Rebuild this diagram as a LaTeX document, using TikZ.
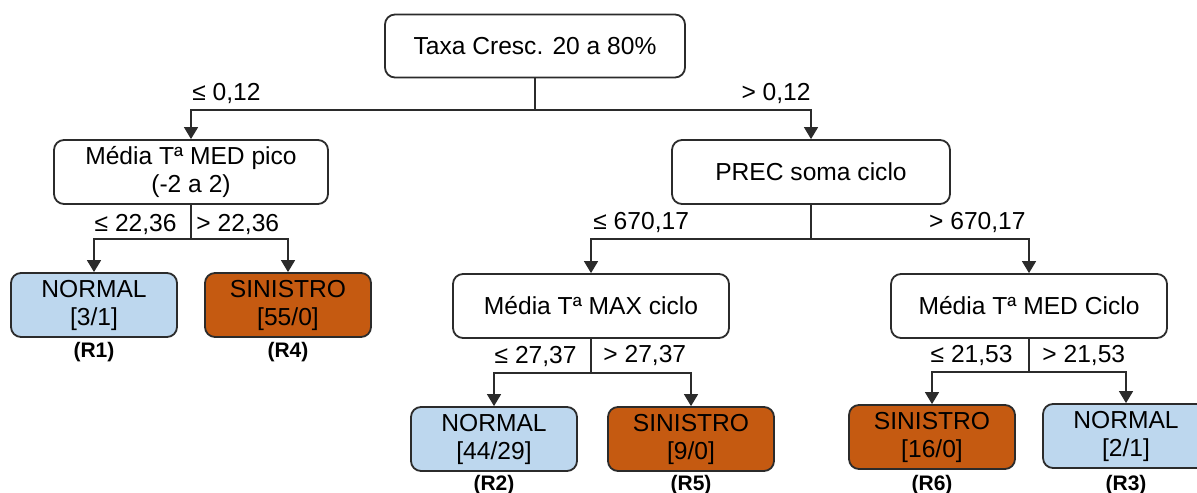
\documentclass[tikz,border=0pt]{standalone}
\usepackage{fontspec}
\setmainfont{Liberation Sans}
\usetikzlibrary{arrows.meta,calc}

\definecolor{normalfill}{HTML}{BDD7EE}
\definecolor{sinistrofill}{HTML}{C55A11}
\definecolor{edgegray}{HTML}{2B2B2B}

\tikzset{
  box/.style={draw=edgegray, line width=0.9pt, rounded corners=5pt, fill=white,
    align=center, inner sep=2pt, minimum height=32pt,
    font=\fontsize{12.3}{14}\selectfont},
  splitbox/.style={box, minimum width=138pt},
  leafbox/.style={box, minimum width=83pt},
  normalleaf/.style={leafbox, fill=normalfill},
  sinistroleaf/.style={leafbox, fill=sinistrofill},
  rlab/.style={inner sep=0pt, font=\fontsize{10.5}{12}\bfseries\selectfont},
  cond/.style={inner sep=0pt, font=\fontsize{12.3}{14}\selectfont},
  conn/.style={draw=edgegray, line width=0.75pt},
  arr/.style={conn, -{Triangle[width=7pt,length=6pt]}},
}

\begin{document}
\begin{tikzpicture}[x=0.5pt, y=-0.5pt]
  \useasboundingbox (0,0) rectangle (1197,492);

  % split nodes
  \node[box, minimum width=150pt, minimum height=31.5pt] (root) at (535,46) {Taxa Cresc. 20 a 80\%};
  \node[splitbox, minimum width=137pt] (pico) at (191,172) {Média Tª MED pico\\(-2 a 2)};
  \node[splitbox, minimum width=139pt] (prec) at (811,172) {PREC soma ciclo};
  \node[splitbox] (tmax) at (591,306) {Média Tª MAX ciclo};
  \node[splitbox] (tmed) at (1029,306) {Média Tª MED Ciclo};

  % leaves
  \node[normalleaf]   (l1) at (94,305)   {NORMAL\\{[3/1]}};
  \node[sinistroleaf] (l4) at (288,305)  {SINISTRO\\{[55/0]}};
  \node[normalleaf]   (l2) at (494,439)  {NORMAL\\{[44/29]}};
  \node[sinistroleaf] (l5) at (691,439)  {SINISTRO\\{[9/0]}};
  \node[sinistroleaf] (l6) at (932,437)  {SINISTRO\\{[16/0]}};
  \node[normalleaf]   (l3) at (1126,436) {NORMAL\\{[2/1]}};

  % rule labels
  \node[rlab] (r1) at ($(l1.south)+(0,14)$) {(R1)};
  \node[rlab] (r4) at ($(l4.south)+(0,14)$) {(R4)};
  \node[rlab] (r2) at ($(l2.south)+(0,13)$) {(R2)};
  \node[rlab] (r5) at ($(l5.south)+(0,13)$) {(R5)};
  \node[rlab] (r6) at ($(l6.south)+(0,15)$) {(R6)};
  \node[rlab] (r3) at ($(l3.south)+(0,16)$) {(R3)};

  % branch junctions
  \coordinate (j1) at (535,110);
  \coordinate (j2) at (191,239);
  \coordinate (j3) at (811,239);
  \coordinate (j4) at (591,373);
  \coordinate (j5) at (1029,372);

  % connectors
  \draw[conn] (root.south) -- (j1);
  \draw[arr] (j1) -| (pico.north);
  \draw[arr] (j1) -| (prec.north);

  \draw[conn] (pico.south) -- (j2);
  \draw[arr] (j2) -| (l1.north);
  \draw[arr] (j2) -| (l4.north);

  \draw[conn] (prec.south) -- (j3);
  \draw[arr] (j3) -| (tmax.north);
  \draw[arr] (j3) -| (tmed.north);

  \draw[conn] (tmax.south) -- (j4);
  \draw[arr] (j4) -| (l2.north);
  \draw[arr] (j4) -| (l5.north);

  \draw[conn] (tmed.south) -- (j5);
  \draw[arr] (j5) -| (l6.north);
  \draw[arr] (j5) -| (l3.north);

  % split conditions
  \node[cond, anchor=base west] (c1a) at (192,100)  {≤ 0,12};
  \node[cond, anchor=base east] (c1b) at (811,100)  {> 0,12};
  \node[cond, anchor=base east] (c2a) at (177,231)  {≤ 22,36};
  \node[cond, anchor=base west] (c2b) at (196,231)  {> 22,36};
  \node[cond, anchor=base west] (c3a) at (593,229)  {≤ 670,17};
  \node[cond, anchor=base east] (c3b) at (1026,229) {> 670,17};
  \node[cond, anchor=base east] (c4a) at (577,363)  {≤ 27,37};
  \node[cond, anchor=base west] (c4b) at (603,362)  {> 27,37};
  \node[cond, anchor=base east] (c5a) at (1013,362) {≤ 21,53};
  \node[cond, anchor=base west] (c5b) at (1042,362) {> 21,53};
\end{tikzpicture}
\end{document}
